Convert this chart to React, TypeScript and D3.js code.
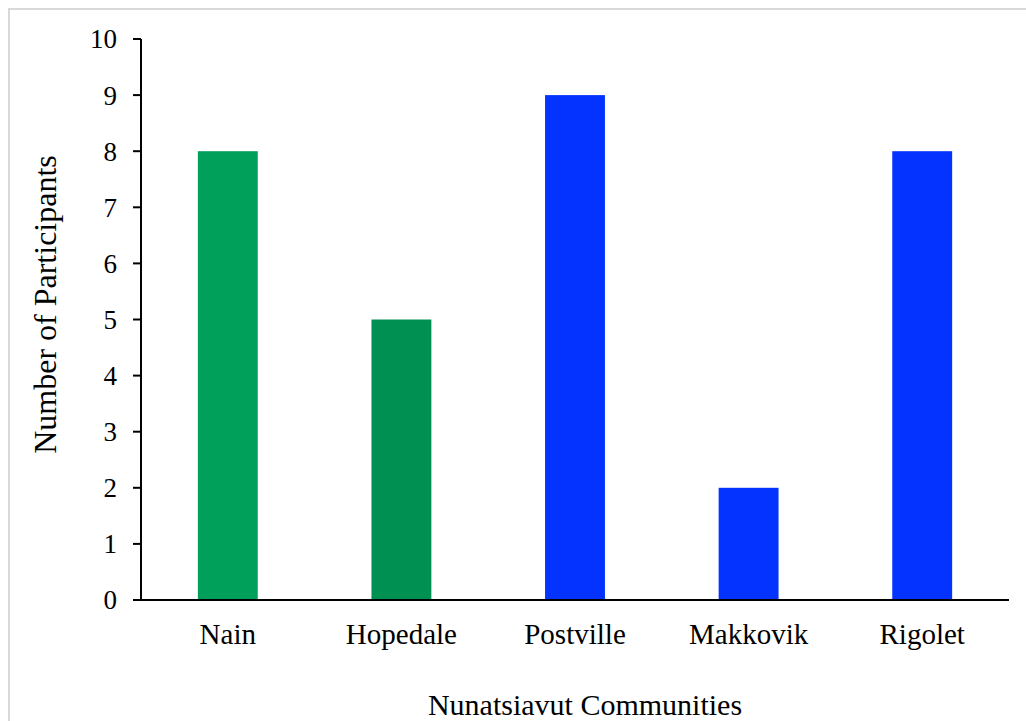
import React from "react";
import * as d3 from "d3";

const categories = ["Nain", "Hopedale", "Postville", "Makkovik", "Rigolet"];
const values = [8, 5, 9, 2, 8];
const barColors = ["#00A05A", "#009152", "#0433FF", "#0433FF", "#0433FF"];
const yTicks = [0, 1, 2, 3, 4, 5, 6, 7, 8, 9, 10];
const xTitle = "Nunatsiavut Communities";
const yTitle = "Number of Participants";

const W = 1026;
const H = 721;
const left = 141;
const right = 1009;
const top = 39;
const bottom = 600;
const FONT = "'Times New Roman', 'Liberation Serif', Tinos, serif";

export default function App() {
  const x = d3.scaleBand<string>().domain(categories).range([left, right]).padding(0);
  const y = d3.scaleLinear().domain([0, 10]).range([bottom, top]);
  const barW = x.bandwidth() * 0.345;

  return (
    <svg
      width={W}
      height={H}
      style={{ position: "absolute", left: 0, top: 0, background: "#fff" }}
    >
      <rect x={9} y={9} width={W + 20} height={H + 20} fill="#fff" stroke="#d9d9d9" strokeWidth={2} />
      {categories.map((c, i) => (
        <rect
          key={c}
          x={(x(c) as number) + x.bandwidth() / 2 - barW / 2}
          y={y(values[i])}
          width={barW}
          height={y(0) - y(values[i])}
          fill={barColors[i]}
        />
      ))}
      {/* y axis */}
      <line x1={left} x2={left} y1={top} y2={bottom} stroke="#000" strokeWidth={2} />
      {yTicks.map((t) => (
        <g key={t}>
          <line x1={left - 8} x2={left} y1={y(t)} y2={y(t)} stroke="#000" strokeWidth={2} />
          <text
            x={117}
            y={y(t)}
            dy="0.35em"
            textAnchor="end"
            fontFamily={FONT}
            fontSize={27}
            fill="#000"
          >
            {t}
          </text>
        </g>
      ))}
      {/* x axis */}
      <line x1={left - 8} x2={right} y1={bottom} y2={bottom} stroke="#000" strokeWidth={2} />
      {categories.map((c) => (
        <text
          key={c}
          x={(x(c) as number) + x.bandwidth() / 2}
          y={644}
          textAnchor="middle"
          fontFamily={FONT}
          fontSize={29}
          fill="#000"
        >
          {c}
        </text>
      ))}
      <text x={585} y={715} textAnchor="middle" fontFamily={FONT} fontSize={30} fill="#000">
        {xTitle}
      </text>
      <text
        transform={`translate(56, ${(top + bottom) / 2 - 15}) rotate(-90)`}
        textAnchor="middle"
        fontFamily={FONT}
        fontSize={32}
        fill="#000"
      >
        {yTitle}
      </text>
    </svg>
  );
}
